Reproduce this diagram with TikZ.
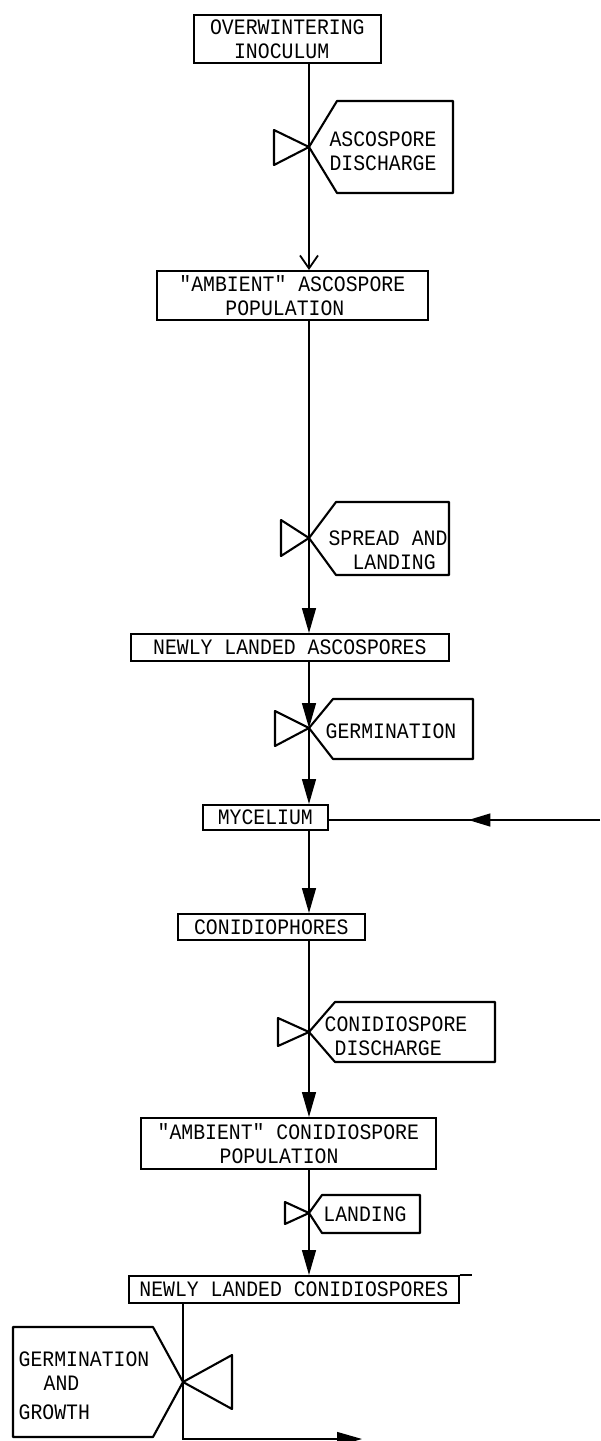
\documentclass[tikz,border=0pt]{standalone}
\usepackage{fontspec}
\newfontfamily\lpfont[FakeStretch=0.9]{Liberation Mono}
\usetikzlibrary{arrows.meta,decorations.markings}
\begin{document}
\begin{tikzpicture}[x=1pt,y=-1pt,
  txt/.style={font=\lpfont\fontsize{22}{24}\selectfont, inner sep=0pt, align=left},
  box/.style={txt, draw, line width=1.7pt, anchor=north west},
  valve/.style={draw, line width=2.1pt, line join=round},
  flow/.style={line width=1.4pt},
  ftip/.style={-{Triangle[length=25pt,width=14pt]}},
  otip/.style={-{Straight Barb[length=13pt,width=18pt,line width=1.8pt]}},
  midtip/.style={postaction={decorate},decoration={markings,mark=at position #1 with {\arrow{Triangle[length=22pt,width=13pt]}}}}
]
\useasboundingbox (0,0) rectangle (600,1441);
\fill[white] (0,0) rectangle (600,1441);

% boxes
\node[box, minimum width=187pt, minimum height=48pt] (b1) at (193,14) {OVERWINTERING\\\hspace*{24pt}INOCULUM};
\node[box, minimum width=271pt, minimum height=49pt] (b2) at (156,270) {"AMBIENT" ASCOSPORE\\\hspace*{46pt}POPULATION};
\node[box, minimum width=318pt, minimum height=27pt] (b3) at (130,633) {NEWLY LANDED ASCOSPORES};
\node[box, minimum width=125pt, minimum height=25pt] (b4) at (202,804) {MYCELIUM};
\node[box, minimum width=187pt, minimum height=26pt] (b5) at (177,913) {CONIDIOPHORES};
\node[box, minimum width=295pt, minimum height=51pt] (b6) at (140,1117) {"AMBIENT" CONIDIOSPORE\\\hspace*{62pt}POPULATION};
\node[box, minimum width=330pt, minimum height=27pt] (b7) at (128,1275) {NEWLY LANDED CONIDIOSPORES};
\draw[line width=1.7pt] (b7.north east) -- ++(12,0);

% valve centres
\coordinate (v1) at (309,147);
\coordinate (v2) at (309,538);
\coordinate (v3) at (309,728);
\coordinate (v4) at (309,1032);
\coordinate (v5) at (309,1213);
\coordinate (v6) at (183,1382);

% valves and their labels
\draw[valve] (v1) -- ++(-35,-17) -- ++(0,35) -- cycle;
\draw[valve] (v1) -- ++(28,-46) -- ++(116,0) -- ++(0,92) -- ++(-116,0) -- cycle;
\node[txt] (l1) at (383,151) {ASCOSPORE\\DISCHARGE};

\draw[valve] (v2) -- ++(-28,-18) -- ++(0,36) -- cycle;
\draw[valve] (v2) -- ++(27,-36) -- ++(113,0) -- ++(0,73) -- ++(-113,0) -- cycle;
\node[txt] (l2) at (388,550) {SPREAD AND\\\hspace*{24pt}LANDING};

\draw[valve] (v3) -- ++(-34,-17) -- ++(0,35) -- cycle;
\draw[valve] (v3) -- ++(24,-29) -- ++(140,0) -- ++(0,60) -- ++(-140,0) -- cycle;
\node[txt] (l3) at (391,731) {GERMINATION};

\draw[valve] (v4) -- ++(-31,-14) -- ++(0,28) -- cycle;
\draw[valve] (v4) -- ++(26,-30) -- ++(160,0) -- ++(0,60) -- ++(-160,0) -- cycle;
\node[txt] (l4) at (396,1036) {CONIDIOSPORE\\\hspace*{10pt}DISCHARGE};

\draw[valve] (v5) -- ++(-24,-11) -- ++(0,22) -- cycle;
\draw[valve] (v5) -- ++(13,-18) -- ++(98,0) -- ++(0,38) -- ++(-98,0) -- cycle;
\node[txt] (l5) at (365,1214) {LANDING};

\draw[valve] (v6) -- ++(49,-27) -- ++(0,54) -- cycle;
\draw[valve] (v6) -- ++(-30,-55) -- ++(-140,0) -- ++(0,110) -- ++(140,0) -- cycle;
\node[txt] (l6) at (84,1386) {GERMINATION\\\hspace*{25pt}AND\\[5pt]GROWTH};

% connectors
\draw[flow] (b1.south -| v1) -- (v1);
\draw[flow, otip] (v1) -- (b2.north -| v1);
\draw[flow] (b2.south -| v2) -- (v2);
\draw[flow, ftip] (v2) -- (b3.north -| v2);
\draw[flow, ftip] (b3.south -| v3) -- (v3);
\draw[flow, ftip] (v3) -- (b4.north -| v3);
\draw[flow, ftip] (b4.south -| v3) -- (b5.north -| v3);
\draw[flow] (b5.south -| v4) -- (v4);
\draw[flow, ftip] (v4) -- (b6.north -| v4);
\draw[flow] (b6.south -| v5) -- (v5);
\draw[flow, ftip] (v5) -- (b7.north -| v5);
\draw[flow] (b7.south -| v6) -- (v6);

\coordinate (feed) at (600,820);
\draw[flow, midtip=0.485] (feed) -- (b4.east |- feed);

\coordinate (out) at (362,1439);
\draw[flow, ftip] (v6) -- (v6 |- out) -- (out);
\end{tikzpicture}
\end{document}
